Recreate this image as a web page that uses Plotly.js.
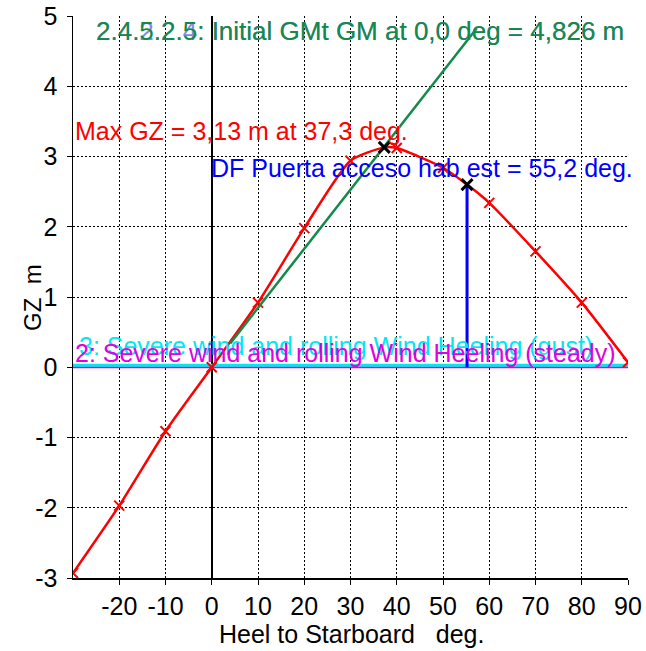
<!DOCTYPE html>
<html>
<head>
<meta charset="utf-8">
<script src="https://cdn.plot.ly/plotly-3.0.1.min.js"></script>
<style>
html,body{margin:0;padding:0;background:#fff;}
#chart{width:646px;height:651px;}
</style>
</head>
<body>
<div id="chart"></div>
<script>
// GZ curve (heel deg, GZ m)
const heel = [-30, -20, -10, 0, 10, 20, 30, 37.3, 40, 50, 55.2, 60, 70, 80, 90];
const gz   = [-2.93, -1.97, -0.91, 0.0, 0.92, 1.98, 2.94, 3.13, 3.12, 2.84, 2.6, 2.34, 1.65, 0.92, 0.07];
// marked points on the GZ curve
const markHeel = [-30, -20, -10, 0, 10, 20, 30, 40, 50, 60, 70, 80, 90];
const markGz   = [-2.93, -1.97, -0.91, 0.0, 0.92, 1.98, 2.94, 3.12, 2.84, 2.34, 1.65, 0.92, 0.07];
// special points
const keyHeel = [37.3, 55.2];
const keyGz   = [3.13, 2.6];
// initial GM line
const gmHeel = [4.0, 57.3];
const gmGz   = [0.34, 4.826];
// downflooding angle
const dfHeel = [55.2, 55.2];
const dfGz   = [0.0, 2.6];
// wind heeling levers
const windHeel = [-30, 90];
const steadyLever = [0.0, 0.0];
const gustLever = [0.03, 0.03];
// tick labels
const xTicks = [-20, -10, 0, 10, 20, 30, 40, 50, 60, 70, 80, 90];
const yTicks = [-3, -2, -1, 0, 1, 2, 3, 4, 5];

const F = "Liberation Sans, Arial, sans-serif";

const traces = [
  {x: windHeel, y: steadyLever, mode: 'lines', line: {color: '#e000e0', width: 2}, hoverinfo: 'skip'},
  {x: windHeel, y: gustLever, mode: 'lines', line: {color: '#00e8f0', width: 3}, hoverinfo: 'skip'},
  {x: dfHeel, y: dfGz, mode: 'lines', line: {color: '#0000ff', width: 3}},
  {x: heel, y: gz, mode: 'lines', line: {color: '#ff0000', width: 2.5, shape: 'spline', smoothing: 0.6}},
  {x: markHeel, y: markGz, mode: 'markers', marker: {symbol: 'x-thin-open', size: 10, color: '#ff0000', line: {color: '#ff0000', width: 2}}},
  {x: gmHeel, y: gmGz, mode: 'lines', line: {color: '#138a4a', width: 2.5}},
  {x: keyHeel, y: keyGz, mode: 'markers', marker: {symbol: 'x-thin-open', size: 11, color: '#000', line: {color: '#000', width: 3}}}
];

const layout = {
  width: 646, height: 651,
  margin: {l: 73, r: 18, t: 16, b: 73},
  paper_bgcolor: '#fff', plot_bgcolor: '#fff',
  showlegend: false,
  font: {family: F, size: 25, color: '#000'},
  xaxis: {
    range: [-30, 90], tickvals: xTicks, ticktext: xTicks.map(String),
    showgrid: true, gridcolor: '#000', gridwidth: 1, griddash: '2px,2px',
    zeroline: true, zerolinecolor: '#000', zerolinewidth: 1.5,
    showline: true, linecolor: '#000', linewidth: 1.5,
    ticks: 'outside', ticklen: 5, tickcolor: '#000',
    tickfont: {family: F, size: 25, color: '#000'}
  },
  yaxis: {
    range: [-3, 5], tickvals: yTicks, ticktext: yTicks.map(String),
    showgrid: true, gridcolor: '#000', gridwidth: 1, griddash: '2px,2px',
    zeroline: false,
    showline: true, linecolor: '#000', linewidth: 1.5,
    ticks: 'outside', ticklen: 5, tickcolor: '#000', ticklabelstandoff: 4,
    tickfont: {family: F, size: 25, color: '#000'}
  },
  annotations: [
    {xref: 'paper', yref: 'paper', x: (351-73)/555, y: (578-634)/562, xanchor: 'center', yanchor: 'middle',
     text: 'Heel to Starboard\u00a0\u00a0\u00a0deg.', showarrow: false, font: {family: F, size: 25, color: '#000'}},
    {xref: 'paper', yref: 'paper', x: (32-73)/555, y: (578-298)/562, xanchor: 'center', yanchor: 'middle', textangle: -90,
     text: 'GZ\u00a0\u00a0m', showarrow: false, font: {family: F, size: 24, color: '#000'}},
    {xref: 'x', yref: 'y', x: -25.5, y: 4.78, xanchor: 'left', yanchor: 'middle', showarrow: false,
     text: '2.4.2.2.4: Initial GMt GM at 0,0 deg = 4,826 m', font: {family: F, size: 26, color: '#8a8ae0'}},
    {xref: 'x', yref: 'y', x: -25.5, y: 4.78, xanchor: 'left', yanchor: 'middle', showarrow: false,
     text: '2.4.5.2.5: Initial GMt GM at 0,0 deg = 4,826 m', font: {family: F, size: 26, color: '#138a4a'}},
    {xref: 'x', yref: 'y', x: -30, y: 3.37, xanchor: 'left', yanchor: 'middle', showarrow: false,
     text: 'Max GZ = 3,13 m at 37,3 deg.', font: {family: F, size: 25, color: '#ff0000'}},
    {xref: 'x', yref: 'y', x: -0.6, y: 2.84, xanchor: 'left', yanchor: 'middle', showarrow: false,
     text: 'DF Puerta acceso hab est = 55,2 deg.', font: {family: F, size: 25, color: '#0000ff'}},
    {xref: 'x', yref: 'y', x: -29.2, y: 0.30, xanchor: 'left', yanchor: 'middle', showarrow: false,
     text: '3: Severe wind and rolling Wind Heeling (gust)', font: {family: F, size: 25, color: '#00e8f0'}},
    {xref: 'x', yref: 'y', x: -30, y: 0.21, xanchor: 'left', yanchor: 'middle', showarrow: false,
     text: '2: Severe wind and rolling Wind Heeling (steady)', font: {family: F, size: 25, color: '#e000e0'}}
  ]
};

Plotly.newPlot('chart', traces, layout, {staticPlot: true, displayModeBar: false});
</script>
</body>
</html>
